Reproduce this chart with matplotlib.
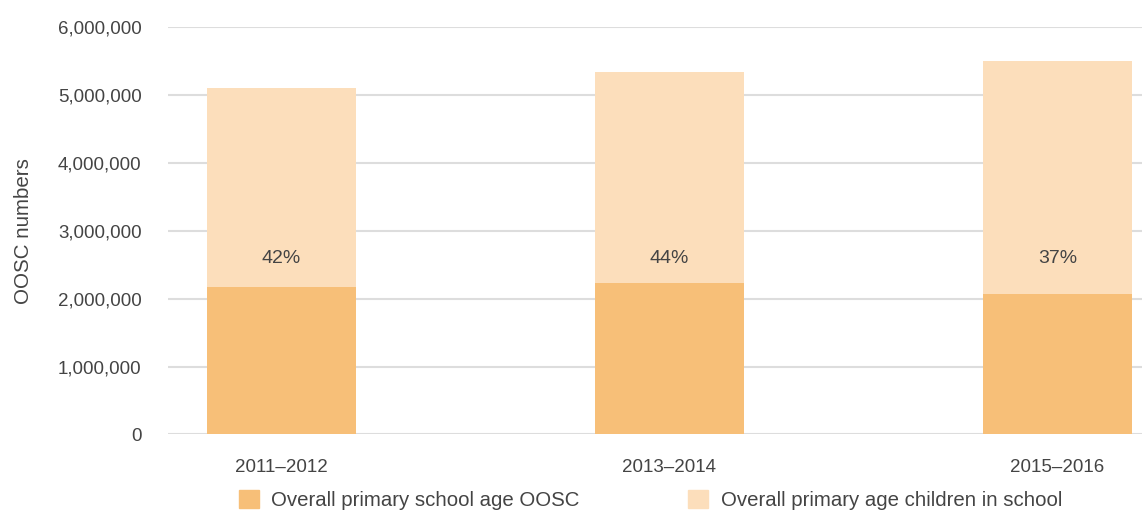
import matplotlib.pyplot as plt
from matplotlib.patches import Patch
from matplotlib.ticker import FuncFormatter

periods = ["2011\u20132012", "2013\u20132014", "2015\u20132016"]
oosc = [2172000, 2231000, 2069000]
in_school = [2931000, 3108000, 3432000]
pct_labels = ["42%", "44%", "37%"]
label_y = 2585000

c_oosc = "#f7bf78"
c_school = "#fcdebb"
text_c = "#444444"

plt.rcParams["font.family"] = ["Liberation Sans", "DejaVu Sans"]

fig = plt.figure(figsize=(11.42, 5.17), dpi=100)
ax = fig.add_axes([0.1471, 0.1596, 0.8529, 0.7882])

x = range(len(periods))
ax.bar(x, oosc, width=0.384, color=c_oosc, zorder=2)
ax.bar(x, in_school, width=0.384, bottom=oosc, color=c_school, zorder=2)

for i, lab in enumerate(pct_labels):
    ax.text(i, label_y, lab, ha="center", va="center", fontsize=14, color=text_c)

ax.set_xlim(-0.2925, 2.218)
ax.set_ylim(0, 6000000)
ax.set_yticks(range(0, 6000001, 1000000))
ax.yaxis.set_major_formatter(FuncFormatter(lambda v, p: f"{int(v):,}"))
ax.set_xticks(list(x))
ax.set_xticklabels(periods)
ax.grid(axis="y", color="#dddddd", linewidth=1.5, zorder=0)
for s in ax.spines.values():
    s.set_visible(False)
ax.tick_params(axis="both", length=0, labelsize=13.5, labelcolor=text_c)
ax.tick_params(axis="y", pad=19)
ax.tick_params(axis="x", pad=18)
ax.set_ylabel("OOSC numbers", fontsize=14.8, color=text_c, labelpad=18)

handles = [Patch(color=c_oosc), Patch(color=c_school)]
fig.legend(handles, ["Overall primary school age OOSC", "Overall primary age children in school"],
           loc="lower left", bbox_to_anchor=(0.193, -0.022), ncol=2, frameon=False,
           handlelength=1.0, handleheight=1.0, handletextpad=0.6, columnspacing=5.3,
           labelcolor=text_c, prop={"size": 14.7})

fig.savefig("out.png", dpi=100)
